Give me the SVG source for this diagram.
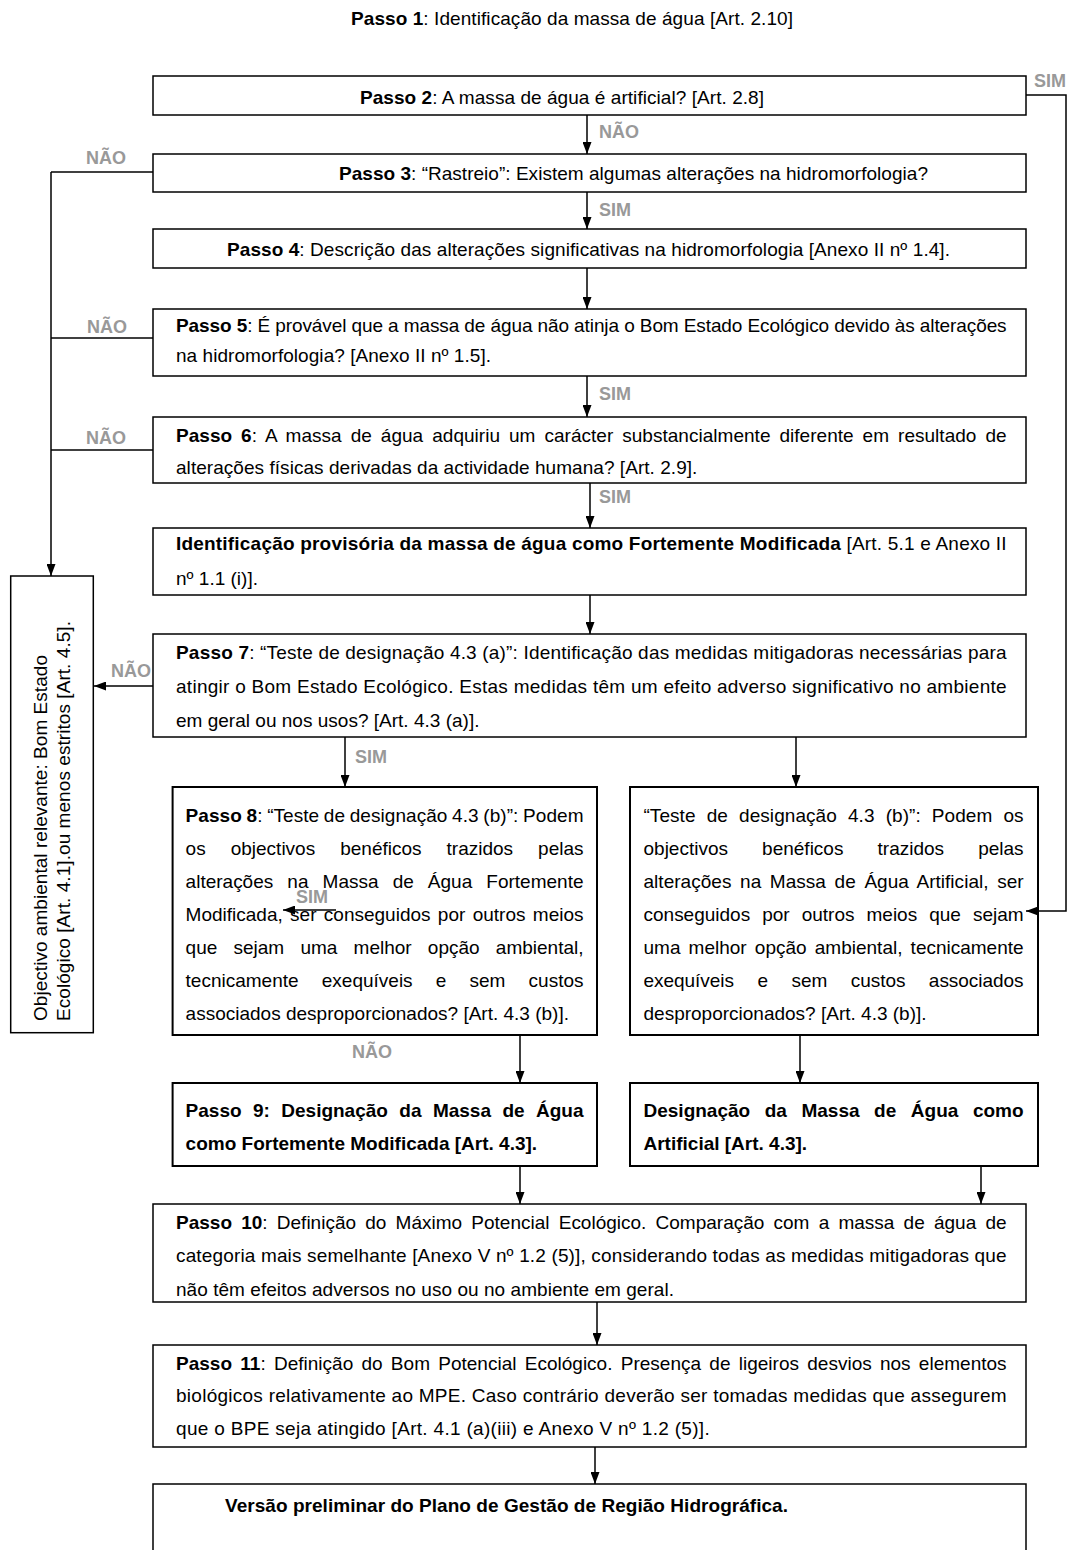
<svg xmlns="http://www.w3.org/2000/svg" width="1070" height="1550" viewBox="0 0 1070 1550">
<style>
.t{font-family:"Liberation Sans",Arial,sans-serif;font-size:19px;fill:#000}
.b{font-weight:bold}
.lbl{font-family:"Liberation Sans",Arial,sans-serif;font-size:18px;font-weight:bold;fill:#999}
.box{fill:#fff;stroke:#000;stroke-width:1.5}
.box2{fill:#fff;stroke:#000;stroke-width:2}
.c{stroke:#000;stroke-width:1.5;fill:none}
</style>
<defs>
<marker id="ah" markerUnits="userSpaceOnUse" markerWidth="12" markerHeight="9" refX="12" refY="4.5" orient="auto">
<path d="M0,0 L12,4.5 L0,9 z" fill="#000"/>
</marker>
</defs>
<rect width="1070" height="1550" fill="#fff"/>

<g id="passo1">
<text class="t" x="351" y="25" textLength="442" lengthAdjust="spacing"><tspan class="b">Passo 1</tspan>: Identificação da massa de água [Art. 2.10]</text>
</g>

<g id="passo2">
<rect class="box" x="153" y="76" width="873" height="39"/>
<text class="t" x="360" y="103.5" textLength="404" lengthAdjust="spacing"><tspan class="b">Passo 2</tspan>: A massa de água é artificial? [Art. 2.8]</text>
</g>

<g id="passo3">
<rect class="box" x="153" y="154" width="873" height="38"/>
<text class="t" x="339" y="180" textLength="589" lengthAdjust="spacing"><tspan class="b">Passo 3</tspan>: “Rastreio”: Existem algumas alterações na hidromorfologia?</text>
</g>

<g id="passo4">
<rect class="box" x="153" y="229" width="873" height="39"/>
<text class="t" x="227" y="256" textLength="723" lengthAdjust="spacing"><tspan class="b">Passo 4</tspan>: Descrição das alterações significativas na hidromorfologia [Anexo II nº 1.4].</text>
</g>

<g id="passo5">
<rect class="box" x="153" y="309" width="873" height="67"/>
<text class="t" x="176" y="332" textLength="830.6" lengthAdjust="spacing"><tspan class="b">Passo 5</tspan>: É provável que a massa de água não atinja o Bom Estado Ecológico devido às alterações</text>
<text class="t" x="176" y="362" textLength="315" lengthAdjust="spacing">na hidromorfologia? [Anexo II nº 1.5].</text>
</g>

<g id="passo6">
<rect class="box" x="153" y="417" width="873" height="66"/>
<text class="t" x="176" y="442" word-spacing="3.7" textLength="830.6" lengthAdjust="spacing"><tspan class="b">Passo 6</tspan>: A massa de água adquiriu um carácter substancialmente diferente em resultado de</text>
<text class="t" x="176" y="474" textLength="521.4" lengthAdjust="spacing">alterações físicas derivadas da actividade humana? [Art. 2.9].</text>
</g>

<g id="identificacao">
<rect class="box" x="153" y="528" width="873" height="67"/>
<text class="t" x="176" y="550" textLength="830.6" lengthAdjust="spacing"><tspan class="b">Identificação provisória da massa de água como Fortemente Modificada</tspan> [Art. 5.1 e Anexo II</text>
<text class="t" x="176" y="585" textLength="82" lengthAdjust="spacing">nº 1.1 (i)].</text>
</g>

<g id="objectivo">
<rect class="box" x="10.7" y="576" width="82.6" height="456.7"/>
<text class="t" transform="translate(46.5,1021) rotate(-90)" x="0" y="0" textLength="366" lengthAdjust="spacing">Objectivo ambiental relevante: Bom Estado</text>
<text class="t" transform="translate(70,1021) rotate(-90)" x="0" y="0" textLength="400" lengthAdjust="spacing">Ecológico [Art. 4.1].ou menos estritos [Art. 4.5].</text>
</g>

<g id="passo7">
<rect class="box" x="153" y="634" width="873" height="103"/>
<text class="t" x="176" y="659" textLength="830.6" lengthAdjust="spacing"><tspan class="b">Passo 7</tspan>: “Teste de designação 4.3 (a)”: Identificação das medidas mitigadoras necessárias para</text>
<text class="t" x="176" y="693" textLength="830.6" lengthAdjust="spacing">atingir o Bom Estado Ecológico. Estas medidas têm um efeito adverso significativo no ambiente</text>
<text class="t" x="176" y="727" textLength="303.5" lengthAdjust="spacing">em geral ou nos usos? [Art. 4.3 (a)].</text>
</g>

<g id="passo8">
<rect class="box2" x="172.6" y="787" width="424.4" height="248"/>
<text class="t" x="185.6" y="822" word-spacing="-0.64" textLength="397.9" lengthAdjust="spacing"><tspan class="b">Passo 8</tspan>: “Teste de designação 4.3 (b)”: Podem</text>
<text class="t" x="185.6" y="855" word-spacing="19.75" textLength="397.9" lengthAdjust="spacing">os objectivos benéficos trazidos pelas</text>
<text class="t" x="185.6" y="888" word-spacing="8.82" textLength="397.9" lengthAdjust="spacing">alterações na Massa de Água Fortemente</text>
<text class="t" x="185.6" y="921" word-spacing="2.08" textLength="397.9" lengthAdjust="spacing">Modificada, ser conseguidos por outros meios</text>
<text class="t" x="185.6" y="954" word-spacing="10.94" textLength="397.9" lengthAdjust="spacing">que sejam uma melhor opção ambiental,</text>
<text class="t" x="185.6" y="987" word-spacing="17.9" textLength="397.9" lengthAdjust="spacing">tecnicamente exequíveis e sem custos</text>
<text class="t" x="185.6" y="1020">associados desproporcionados? [Art. 4.3 (b)].</text>
</g>

<g id="teste-artificial">
<rect class="box2" x="630" y="787" width="408" height="248"/>
<text class="t" x="643.5" y="822" word-spacing="5.8" textLength="380.1" lengthAdjust="spacing">“Teste de designação 4.3 (b)”: Podem os</text>
<text class="t" x="643.5" y="855" word-spacing="28.85" textLength="380.1" lengthAdjust="spacing">objectivos benéficos trazidos pelas</text>
<text class="t" x="643.5" y="888" word-spacing="3.34" textLength="380.1" lengthAdjust="spacing">alterações na Massa de Água Artificial, ser</text>
<text class="t" x="643.5" y="921" word-spacing="6.74" textLength="380.1" lengthAdjust="spacing">conseguidos por outros meios que sejam</text>
<text class="t" x="643.5" y="954" word-spacing="2.89" textLength="380.1" lengthAdjust="spacing">uma melhor opção ambiental, tecnicamente</text>
<text class="t" x="643.5" y="987" word-spacing="18.22" textLength="380.1" lengthAdjust="spacing">exequíveis e sem custos associados</text>
<text class="t" x="643.5" y="1020">desproporcionados? [Art. 4.3 (b)].</text>
</g>

<g id="passo9">
<rect class="box2" x="172.6" y="1083" width="424.4" height="83"/>
<text class="t b" x="185.6" y="1117" word-spacing="6.13" textLength="397.9" lengthAdjust="spacing">Passo 9: Designação da Massa de Água</text>
<text class="t b" x="185.6" y="1150">como Fortemente Modificada [Art. 4.3].</text>
</g>

<g id="designacao-artificial">
<rect class="box2" x="630" y="1083" width="408" height="83"/>
<text class="t b" x="643.5" y="1117" word-spacing="9.3" textLength="380.1" lengthAdjust="spacing">Designação da Massa de Água como</text>
<text class="t b" x="643.5" y="1150">Artificial [Art. 4.3].</text>
</g>

<g id="passo10">
<rect class="box" x="153" y="1204" width="873" height="98"/>
<text class="t" x="176" y="1229" word-spacing="3.94" textLength="830.6" lengthAdjust="spacing"><tspan class="b">Passo 10</tspan>: Definição do Máximo Potencial Ecológico. Comparação com a massa de água de</text>
<text class="t" x="176" y="1262" textLength="830.6" lengthAdjust="spacing">categoria mais semelhante [Anexo V nº 1.2 (5)], considerando todas as medidas mitigadoras que</text>
<text class="t" x="176" y="1296" textLength="498" lengthAdjust="spacing">não têm efeitos adversos no uso ou no ambiente em geral.</text>
</g>

<g id="passo11">
<rect class="box" x="153" y="1345" width="873" height="102"/>
<text class="t" x="176" y="1370" word-spacing="2.95" textLength="830.6" lengthAdjust="spacing"><tspan class="b">Passo 11</tspan>: Definição do Bom Potencial Ecológico. Presença de ligeiros desvios nos elementos</text>
<text class="t" x="176" y="1402" textLength="830.6" lengthAdjust="spacing">biológicos relativamente ao MPE. Caso contrário deverão ser tomadas medidas que assegurem</text>
<text class="t" x="176" y="1435" textLength="533.7" lengthAdjust="spacing">que o BPE seja atingido [Art. 4.1 (a)(iii) e Anexo V nº 1.2 (5)].</text>
</g>

<g id="versao-preliminar">
<rect class="box" x="153" y="1484" width="873" height="90"/>
<text class="t b" x="225" y="1512" textLength="563" lengthAdjust="spacing">Versão preliminar do Plano de Gestão de Região Hidrográfica.</text>
</g>

<g id="connectors">
<line class="c" x1="587" y1="115" x2="587" y2="154" marker-end="url(#ah)"/>
<line class="c" x1="587" y1="192" x2="587" y2="229" marker-end="url(#ah)"/>
<line class="c" x1="587" y1="268" x2="587" y2="309" marker-end="url(#ah)"/>
<line class="c" x1="587" y1="376" x2="587" y2="417" marker-end="url(#ah)"/>
<line class="c" x1="590" y1="483" x2="590" y2="528" marker-end="url(#ah)"/>
<line class="c" x1="590" y1="595" x2="590" y2="634" marker-end="url(#ah)"/>
<polyline class="c" points="1026,95 1066,95 1066,911 1026,911" marker-end="url(#ah)"/>
<line class="c" x1="153" y1="172" x2="51" y2="172"/>
<line class="c" x1="153" y1="338" x2="51" y2="338"/>
<line class="c" x1="153" y1="450" x2="51" y2="450"/>
<line class="c" x1="51" y1="172" x2="51" y2="576" marker-end="url(#ah)"/>
<line class="c" x1="153" y1="686" x2="94" y2="686" marker-end="url(#ah)"/>
<line class="c" x1="345" y1="737" x2="345" y2="787" marker-end="url(#ah)"/>
<line class="c" x1="796" y1="737" x2="796" y2="787" marker-end="url(#ah)"/>
<line class="c" x1="336" y1="910" x2="283" y2="910" marker-end="url(#ah)"/>
<line class="c" x1="520" y1="1035" x2="520" y2="1083" marker-end="url(#ah)"/>
<line class="c" x1="800" y1="1035" x2="800" y2="1083" marker-end="url(#ah)"/>
<line class="c" x1="520" y1="1166" x2="520" y2="1204" marker-end="url(#ah)"/>
<line class="c" x1="981" y1="1166" x2="981" y2="1204" marker-end="url(#ah)"/>
<line class="c" x1="597" y1="1302" x2="597" y2="1345" marker-end="url(#ah)"/>
<line class="c" x1="595" y1="1447" x2="595" y2="1484" marker-end="url(#ah)"/>
<text class="lbl" x="1034" y="87">SIM</text>
<text class="lbl" x="599" y="138">NÃO</text>
<text class="lbl" x="599" y="216">SIM</text>
<text class="lbl" x="599" y="400">SIM</text>
<text class="lbl" x="599" y="503">SIM</text>
<text class="lbl" x="86" y="164">NÃO</text>
<text class="lbl" x="87" y="333">NÃO</text>
<text class="lbl" x="86" y="444">NÃO</text>
<text class="lbl" x="111" y="677">NÃO</text>
<text class="lbl" x="355" y="763">SIM</text>
<text class="lbl" x="296" y="903">SIM</text>
<text class="lbl" x="352" y="1058">NÃO</text>
</g>
</svg>
